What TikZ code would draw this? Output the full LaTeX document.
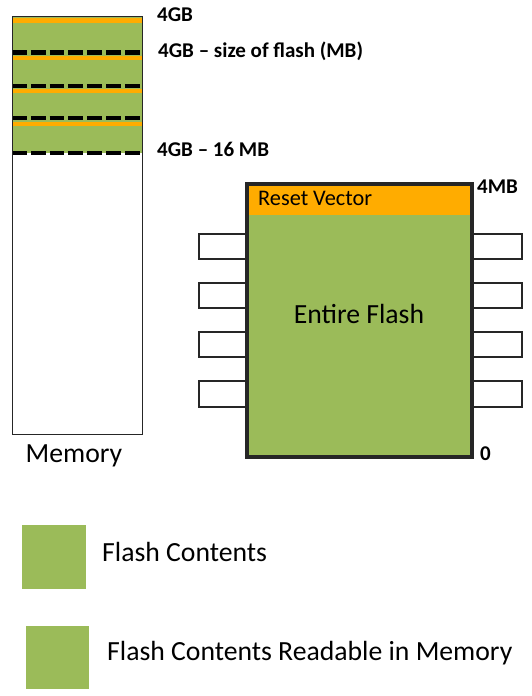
\documentclass[tikz,border=0pt]{standalone}
\usepackage{fontspec}
\setmainfont{Carlito}
\definecolor{flashgreen}{RGB}{155,187,89}
\definecolor{vecorange}{RGB}{255,172,0}
\definecolor{chipedge}{RGB}{38,38,38}
\tikzset{
  lbl/.style={inner sep=0pt, anchor=base west, font=\fontsize{21}{25}\selectfont\bfseries},
  txt/.style={inner sep=0pt, font=\fontsize{27.7}{32}\selectfont},
  vecline/.style={vecorange, line width=4.2pt},
  bound/.style={black, line width=4.3pt, dash pattern=on 14.7pt off 4.1pt},
  pin/.style={draw=chipedge, line width=1.6pt, fill=white}
}
\begin{document}
\begin{tikzpicture}[x=1pt,y=-1pt]
  \useasboundingbox (0,0) rectangle (532,696);
  % memory column
  \fill[flashgreen] (12,16) rectangle (142,153);
  \begin{scope}[vecline]
    \draw (12,20.5) -- (142,20.5);
    \draw (12,58) -- (142,58);
    \draw (12,91.3) -- (142,91.3);
    \draw (12,123.8) -- (142,123.8);
  \end{scope}
  \begin{scope}[bound]
    \draw (12,52.5) -- (142,52.5);
    \draw (12,86) -- (142,86);
    \draw (12,118.3) -- (142,118.3);
    \draw (12,153.2) -- (142,153.2);
  \end{scope}
  \draw[chipedge, line width=1pt] (12,16) rectangle (142,434);
  \node[txt, anchor=base] (memlbl) at (74,462) {Memory};
  \node[lbl] (top) at (157,21) {4GB};
  \node[lbl] (lo) at (158,57) {4GB -- size of flash (MB)};
  \node[lbl] (base) at (157,156) {4GB -- 16 MB};
  % flash chip
  \begin{scope}[pin]
    \draw (199,234) rectangle (247,259);
    \draw (199,283) rectangle (247,308);
    \draw (199,332) rectangle (247,357);
    \draw (199,381) rectangle (247,407);
    \draw (472,234) rectangle (522,259);
    \draw (472,283) rectangle (522,308);
    \draw (472,332) rectangle (522,357);
    \draw (472,381) rectangle (522,407);
  \end{scope}
  \fill[flashgreen] (247,184) rectangle (472,457);
  \fill[vecorange] (247,184) rectangle (472,215);
  \draw[chipedge, line width=3.3pt] (247,184) rectangle (472,457);
  \node[txt, inner sep=0pt, anchor=base west, font=\fontsize{22.3}{26}\selectfont] (reset) at (258,205) {Reset Vector};
  \node[txt, anchor=base] (entire) at (359,323) {Entire Flash};
  \node[lbl] (hi) at (477,193) {4MB};
  \node[lbl] (zero) at (480,460) {0};
  % legend
  \fill[flashgreen] (22,525) rectangle (86,589);
  \node[txt, anchor=base west] (key1) at (102,561) {Flash Contents};
  \fill[flashgreen] (26,626) rectangle (89,689);
  \node[txt, anchor=base west] (key2) at (107,660) {Flash Contents Readable in Memory};
\end{tikzpicture}
\end{document}
